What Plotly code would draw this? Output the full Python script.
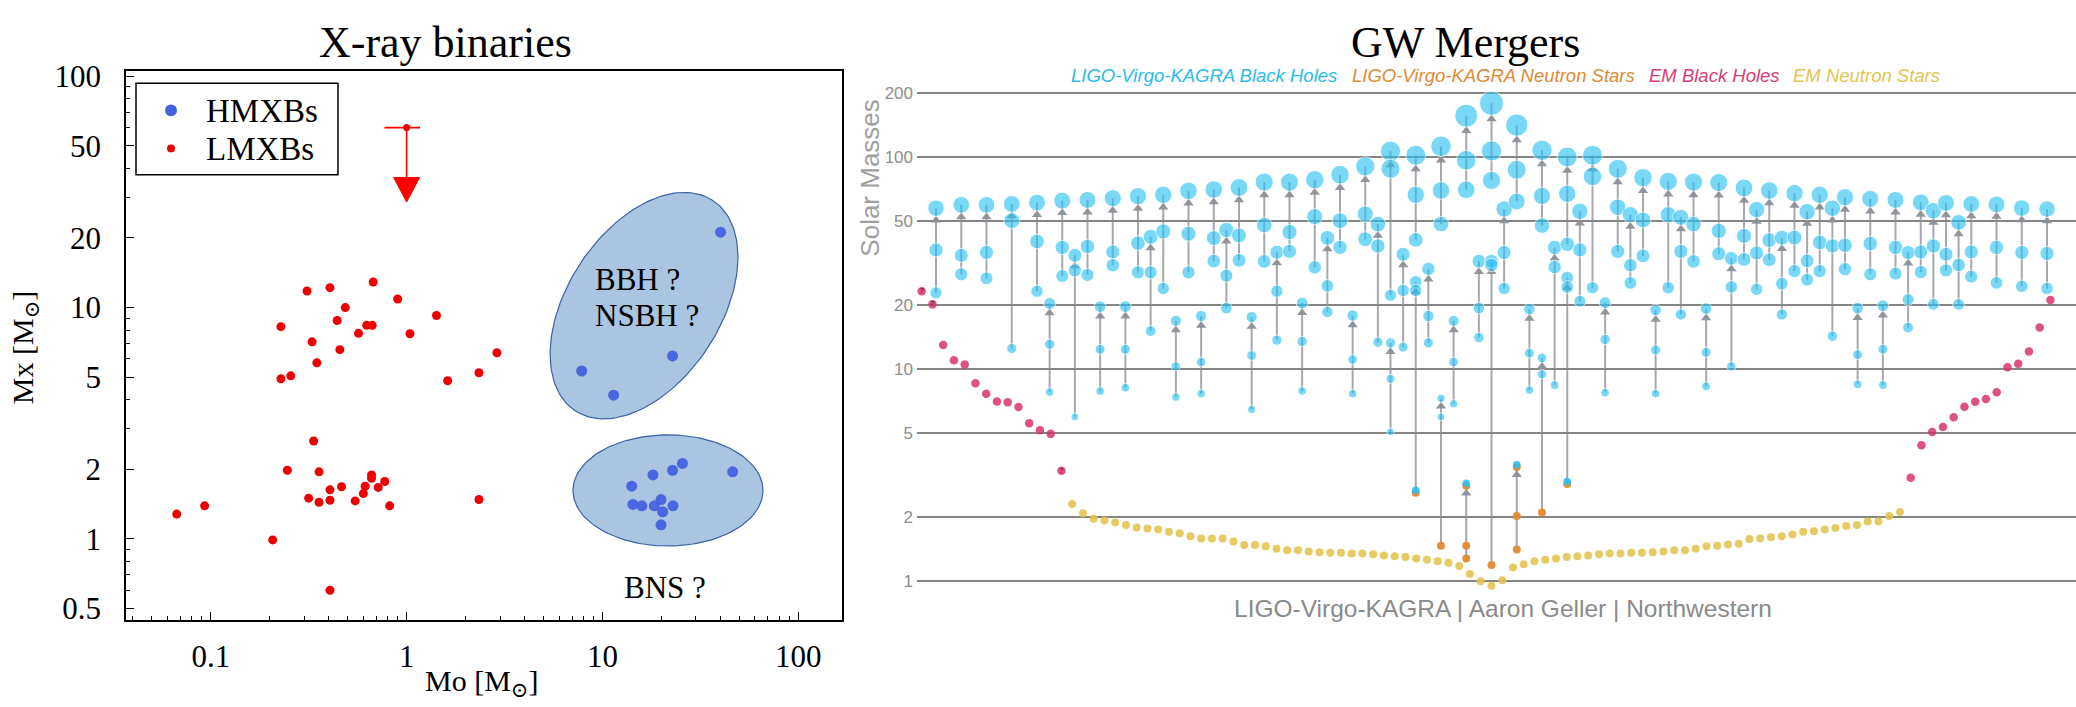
import numpy as np
import plotly.graph_objects as go

W, H = 2076, 707

# ---------------- Left panel: X-ray binaries ----------------
lmxb_mo = [0.31, 0.406, 0.675, 0.486, 0.90, 0.228, 0.442, 0.625, 0.667, 1.42, 0.568, 1.04,
           0.329, 0.456, 0.348, 2.89, 0.228, 0.256, 1.62, 2.34, 0.335, 0.246, 0.357, 0.662,
           0.662, 0.773, 0.465, 0.614, 0.716, 0.406, 0.601, 0.316, 0.406, 0.546, 0.357,
           0.819, 2.34, 0.093, 0.067, 0.207, 0.406]
lmxb_mx = [11.8, 12.2, 12.9, 10.0, 10.9, 8.27, 8.8, 8.38, 8.38, 9.24, 7.74, 7.71,
           7.11, 6.58, 5.77, 6.38, 4.92, 5.07, 4.83, 5.23, 2.65, 1.98, 1.95, 1.89,
           1.83, 1.77, 1.68, 1.69, 1.67, 1.63, 1.57, 1.50, 1.47, 1.46, 1.44,
           1.39, 1.48, 1.39, 1.28, 0.99, 0.60]
hmxb_mo = [40.1, 22.8, 7.83, 11.4, 25.6, 22.8, 46.2, 18.1, 14.1, 14.3, 15.9, 18.4, 19.9, 20.3, 22.9, 19.9]
hmxb_mx = [21.2, 6.18, 5.32, 4.18, 2.12, 1.98, 1.95, 1.89, 1.69, 1.41, 1.39, 1.39, 1.48, 1.31, 1.39, 1.15]

limit_mo, limit_mx = 1.0, 60.0
limit_mo_err_lo, limit_mo_err_hi = 0.23, 0.17
limit_head_top, limit_head_tip = 36.5, 28.6

# ellipses: centre (Mo, Mx), semi-axes in px, tilt in degrees
ell_upper = dict(cx=16.3, cy=10.2, a=128, b=77, ang=58.3)
ell_lower = dict(cx=21.6, cy=1.62, a=95, b=57, ang=0.0)

x_ticks = [0.1, 1, 10, 100]
y_ticks = [0.5, 1, 2, 5, 10, 20, 50, 100]
legend_names = ["HMXBs", "LMXBs"]

# ---------------- Right panel: GW mergers ----------------
# slot, remnant mass, primary, secondary
gw_slot = [0, 2, 4, 6, 8, 9, 10, 11, 12, 13, 14, 15, 16, 17, 18, 19, 20, 21, 22, 23, 24, 25, 26, 27,
           28, 29, 30, 31, 32, 33, 34, 35, 36, 36, 37, 38, 38, 39, 40, 40, 41, 42, 42, 43, 44, 44,
           45, 46, 46, 47, 48, 48, 49, 50, 50, 51, 52, 53, 54, 55, 56, 57, 58, 59, 60, 61, 62, 63,
           64, 65, 66, 67, 68, 69, 70, 71, 72, 73, 74, 75, 76, 77, 78, 79, 80, 81, 82, 84, 86, 88]
gw_final = [57.4, 59.5, 59.5, 60.1, 61.0, 20.4, 62.3, 34.4, 62.8, 19.7, 64.0, 19.7, 65.4, 42.1, 66.4,
            16.9, 69.3, 17.8, 70.3, 45.3, 71.9, 17.6, 76.2, 35.6, 76.2, 20.5, 78.2, 41.6, 82.6, 17.9,
            90.4, 48.3, 106.5, 13.3, 34.8, 102.0, 25.8, 29.7, 112.5, 7.28, 16.9, 156.7, 2.82, 32.3,
            179.4, 32.3, 56.9, 141.5, 3.45, 19.2, 107.7, 11.3, 37.5, 100.1, 27.0, 55.5, 102.0, 20.6,
            88.1, 53.5, 79.9, 19.0, 76.8, 52.0, 76.2, 19.3, 75.9, 33.3, 71.6, 56.5, 69.6, 41.7, 67.6,
            55.3, 66.4, 57.4, 64.7, 19.4, 63.5, 19.9, 62.8, 35.5, 61.2, 55.9, 60.8, 49.2, 60.1, 59.8,
            57.5, 56.9]
gw_m1 = [36.5, 34.4, 35.5, 50.1, 40.0, 13.1, 37.5, 29.2, 37.9, 12.4, 35.7, 12.4, 39.3, 28.6, 44.6,
         10.3, 43.5, 10.8, 41.5, 27.6, 42.7, 11.6, 47.8, 23.3, 44.3, 13.5, 52.4, 24.7, 50.1, 11.1,
         53.9, 38.1, 88.1, 9.0, 23.5, 66.4, 23.5, 17.8, 69.6, 5.95, 10.8, 96.6, 1.47, 19.4,
         106.9, 31.0, 35.5, 87.2, 2.03, 11.9, 65.6, 9.46, 30.3, 67.1, 24.4, 36.5, 81.1, 13.8,
         58.0, 30.9, 50.5, 12.3, 53.5, 35.9, 48.3, 12.0, 44.9, 24.4, 42.5, 35.3, 40.6, 25.3, 41.7,
         32.4, 39.6, 38.1, 38.4, 11.7, 39.1, 12.4, 37.5, 21.3, 35.7, 38.1, 34.8, 31.0, 35.7, 37.5,
         35.5, 35.1]
gw_m2 = [22.9, 28.0, 26.8, 12.5, 23.3, 7.8, 27.5, 5.95, 27.8, 7.88, 30.9, 8.17, 28.6, 15.1, 24.0,
         7.38, 28.6, 7.66, 32.3, 19.4, 32.6, 6.45, 32.2, 13.7, 35.9, 7.88, 30.2, 18.6, 37.5, 7.66,
         41.0, 13.4, 22.3, 5.06, 12.7, 40.7, 2.61, 13.3, 48.3, 1.47, 6.86, 70.1, 1.28, 14.1,
         77.6, 1.19, 24.0, 61.7, 1.41, 7.97, 47.5, 2.11, 8.41, 38.8, 2.87, 20.9, 24.2, 7.74,
         35.9, 25.5, 34.2, 7.66, 24.2, 18.1, 32.2, 8.29, 35.0, 10.3, 32.9, 23.8, 32.8, 18.1, 29.0,
         26.4, 29.0, 14.3, 29.6, 8.48, 28.0, 8.41, 28.2, 15.7, 28.7, 20.2, 29.2, 20.2, 27.3, 25.5,
         24.6, 24.0]

em_bh_left = [23.3, 20.2, 13.0, 11.0, 10.5, 8.57, 7.66, 7.04, 6.97, 6.62, 5.56, 5.15, 4.95, 3.32]
em_bh_left_uncertain = [0, 1, 13]
em_ns = [2.31, 2.09, 1.97, 1.93, 1.89, 1.84, 1.79, 1.77, 1.75, 1.71, 1.68, 1.63, 1.59, 1.59,
         1.59, 1.54, 1.48, 1.48, 1.46, 1.42, 1.40, 1.40, 1.38, 1.37, 1.36, 1.36, 1.35, 1.35,
         1.34, 1.32, 1.31, 1.30, 1.28, 1.26, 1.24, 1.22, 1.18, 1.08, 1.00, 0.95, 1.01, 1.16,
         1.20, 1.24, 1.26, 1.28, 1.30, 1.31, 1.32, 1.34, 1.35, 1.35, 1.36, 1.36, 1.37, 1.38,
         1.40, 1.40, 1.42, 1.46, 1.47, 1.49, 1.50, 1.58, 1.59, 1.61, 1.63, 1.66, 1.71, 1.72,
         1.75, 1.78, 1.82, 1.84, 1.91, 1.91, 2.03, 2.12]
em_bh_right = [3.07, 4.37, 5.05, 5.34, 5.93, 6.64, 7.01, 7.22, 7.77, 10.2, 10.6, 12.1, 15.7, 21.2]

r_ticks = [1, 2, 5, 10, 20, 50, 100, 200]

legend_items = [("LIGO-Virgo-KAGRA Black Holes", "#2bbbef", 1069),
                ("LIGO-Virgo-KAGRA Neutron Stars", "#e08a33", 1350),
                ("EM Black Holes", "#d93d73", 1647),
                ("EM Neutron Stars", "#e2c551", 1791)]

# ---------------- colours ----------------
C_BH = "rgba(40,192,244,0.88)"
C_NS = "rgba(224,138,51,0.95)"
C_EMBH = "rgba(214,52,108,0.85)"
C_EMNS = "rgba(226,196,78,0.88)"
C_ARROW = "rgba(135,140,148,0.75)"
C_HMXB = "#4262df"
C_LMXB = "#ee0000"

# ---------------- layout geometry (px) ----------------
L_LEFT, L_RIGHT, L_TOP, L_BOT = 126, 842, 61, 623.5
LX_RANGE = [-1.433, 2.223]
LY_RANGE = [-0.349, 2.021]
R_LEFT, R_RIGHT, R_TOP, R_BOT = 917, 2076, 75, 600
RY_RANGE = [-0.0735, 2.3396]
LVK_X0, LVK_DX = 936.0, 12.625
EM_X0, EM_DX = 921.7, 10.75

pxx = (L_RIGHT - L_LEFT) / (LX_RANGE[1] - LX_RANGE[0])
pxy = (L_BOT - L_TOP) / (LY_RANGE[1] - LY_RANGE[0])
rpx = (R_BOT - R_TOP) / (RY_RANGE[1] - RY_RANGE[0])

SERIF = "Liberation Serif, Times New Roman, DejaVu Serif, serif"
SANS = "Liberation Sans, Arial, sans-serif"

fig = go.Figure()


def ellipse(e, n=160):
    t = np.linspace(0, 2 * np.pi, n)
    th = np.radians(e["ang"])
    dx = e["a"] * np.cos(t) * np.cos(th) - e["b"] * np.sin(t) * np.sin(th)
    dy = e["a"] * np.cos(t) * np.sin(th) + e["b"] * np.sin(t) * np.cos(th)
    return 10 ** (np.log10(e["cx"]) + dx / pxx), 10 ** (np.log10(e["cy"]) + dy / pxy)


for e in (ell_upper, ell_lower):
    ex, ey = ellipse(e)
    fig.add_trace(go.Scatter(x=ex, y=ey, mode="lines", fill="toself",
                             fillcolor="rgba(170,197,226,1)",
                             line=dict(color="#3a62a6", width=1.2),
                             showlegend=False, hoverinfo="skip", xaxis="x", yaxis="y"))

fig.add_trace(go.Scatter(x=hmxb_mo, y=hmxb_mx, mode="markers", name=legend_names[0],
                         marker=dict(color=C_HMXB, size=11, opacity=0.95), showlegend=False,
                         xaxis="x", yaxis="y"))
fig.add_trace(go.Scatter(x=lmxb_mo, y=lmxb_mx, mode="markers", name=legend_names[1],
                         marker=dict(color=C_LMXB, size=9), showlegend=False,
                         xaxis="x", yaxis="y"))
# upper limit: point with horizontal bar, line and arrow head
fig.add_trace(go.Scatter(x=[limit_mo, limit_mo], y=[limit_mx, limit_head_top], mode="lines",
                         line=dict(color="#ff0000", width=1.6), showlegend=False,
                         hoverinfo="skip", xaxis="x", yaxis="y"))
fig.add_trace(go.Scatter(x=[limit_mo], y=[limit_mx], mode="markers",
                         marker=dict(color=C_LMXB, size=7),
                         error_x=dict(type="data", symmetric=False, array=[limit_mo_err_hi],
                                      arrayminus=[limit_mo_err_lo], color="#ff0000",
                                      thickness=1.6, width=0),
                         showlegend=False, xaxis="x", yaxis="y"))
hw = 10 ** (13.0 / pxx)
fig.add_trace(go.Scatter(x=[limit_mo / hw, limit_mo * hw, limit_mo, limit_mo / hw],
                         y=[limit_head_top, limit_head_top, limit_head_tip, limit_head_top],
                         mode="lines", fill="toself", fillcolor="#ff0000",
                         line=dict(color="#ff0000", width=1), showlegend=False,
                         hoverinfo="skip", xaxis="x", yaxis="y"))

# ---------------- right panel traces ----------------
gx = [LVK_X0 + s * LVK_DX for s in gw_slot]


def bh_size(m):
    return max(7.5, 4.35 * m ** 0.33)


lx, ly = [], []
for x, f, a, b in zip(gx, gw_final, gw_m1, gw_m2):
    lx += [x, x, None]
    ly += [min(a, b), f, None]
fig.add_trace(go.Scatter(x=lx, y=ly, mode="lines", line=dict(color=C_ARROW, width=2),
                         showlegend=False, hoverinfo="skip", xaxis="x2", yaxis="y2"))
ahx, ahy = [], []
for x, f in zip(gx, gw_final):
    ahx.append(x)
    ahy.append(f / 10 ** ((bh_size(f) / 2 + 4.0) / rpx))
fig.add_trace(go.Scatter(x=ahx, y=ahy, mode="markers",
                         marker=dict(symbol="triangle-up", size=9, color="rgba(140,145,152,0.95)"),
                         showlegend=False, hoverinfo="skip", xaxis="x2", yaxis="y2"))

# EM objects
em_all = em_bh_left + em_ns + em_bh_right
em_x = [EM_X0 + i * EM_DX for i in range(len(em_all))]
nl, nn = len(em_bh_left), len(em_ns)
fig.add_trace(go.Scatter(x=em_x[:nl], y=em_bh_left, mode="markers",
                         marker=dict(color=C_EMBH, size=8.5), showlegend=False,
                         xaxis="x2", yaxis="y2"))
fig.add_trace(go.Scatter(x=[em_x[i] for i in em_bh_left_uncertain],
                         y=[em_bh_left[i] for i in em_bh_left_uncertain], mode="text",
                         text=["?"] * len(em_bh_left_uncertain), textposition="middle center",
                         textfont=dict(size=8, color="#222"), showlegend=False,
                         hoverinfo="skip", xaxis="x2", yaxis="y2"))
fig.add_trace(go.Scatter(x=em_x[nl:nl + nn], y=em_ns, mode="markers",
                         marker=dict(color=C_EMNS, size=8), showlegend=False,
                         xaxis="x2", yaxis="y2"))
fig.add_trace(go.Scatter(x=em_x[nl + nn:], y=em_bh_right, mode="markers",
                         marker=dict(color=C_EMBH, size=8.5), showlegend=False,
                         xaxis="x2", yaxis="y2"))

# LVK compact objects
bx, by, bs, nx, ny, hx, hy = [], [], [], [], [], [], []
for x, f, a, b in zip(gx, gw_final, gw_m1, gw_m2):
    for m in (f, a, b):
        if m < 2.5:
            nx.append(x); ny.append(m)
        elif m < 3.6:
            hx.append(x); hy.append(m)
        else:
            bx.append(x); by.append(m); bs.append(bh_size(m))
fig.add_trace(go.Scatter(x=bx, y=by, mode="markers", marker=dict(color=C_BH, size=bs),
                         showlegend=False, xaxis="x2", yaxis="y2"))
fig.add_trace(go.Scatter(x=nx + hx, y=ny + hy, mode="markers", marker=dict(color=C_NS, size=8),
                         showlegend=False, xaxis="x2", yaxis="y2"))
fig.add_trace(go.Scatter(x=hx, y=[m * 10 ** (2.5 / rpx) for m in hy], mode="markers",
                         marker=dict(color=C_BH, size=7.5), showlegend=False,
                         xaxis="x2", yaxis="y2"))


# ---------------- layout ----------------
def minor_vals(lo, hi, major):
    v = []
    for e in range(lo, hi + 1):
        for d in range(1, 10):
            val = d * 10.0 ** e
            if all(abs(val - m) > 1e-9 * max(1, m) for m in major):
                v.append(val)
    return v


axis_font = dict(family=SERIF, size=31, color="black")
fig.update_layout(
    width=W, height=H, margin=dict(l=0, r=0, t=0, b=0),
    paper_bgcolor="white", plot_bgcolor="white", showlegend=False,
    xaxis=dict(domain=[L_LEFT / W, L_RIGHT / W], type="log", range=LX_RANGE,
               tickvals=x_ticks, ticktext=[str(v) for v in x_ticks],
               ticks="inside", ticklen=8, tickwidth=1.3, tickcolor="black",
               minor=dict(tickmode="array", tickvals=minor_vals(-2, 2, x_ticks),
                          ticks="inside", ticklen=4, tickwidth=1, tickcolor="black"),
               showline=True, linecolor="black", linewidth=1.5, mirror=True,
               showgrid=False, zeroline=False, tickfont=axis_font, ticklabelstandoff=8,
               anchor="y"),
    yaxis=dict(domain=[1 - L_BOT / H, 1 - L_TOP / H], type="log", range=LY_RANGE,
               tickvals=y_ticks, ticktext=[("%g" % v) for v in y_ticks],
               ticks="inside", ticklen=8, tickwidth=1.3, tickcolor="black",
               minor=dict(tickmode="array", tickvals=minor_vals(-1, 2, y_ticks),
                          ticks="inside", ticklen=4, tickwidth=1, tickcolor="black"),
               showline=True, linecolor="black", linewidth=1.5, mirror=True,
               showgrid=False, zeroline=False, tickfont=axis_font, ticklabelstandoff=17,
               anchor="x"),
    xaxis2=dict(domain=[R_LEFT / W, R_RIGHT / W], range=[R_LEFT, R_RIGHT], visible=False,
                anchor="y2"),
    yaxis2=dict(domain=[1 - R_BOT / H, 1 - R_TOP / H], type="log", range=RY_RANGE,
                tickvals=r_ticks, ticktext=[str(v) for v in r_ticks],
                showgrid=True, gridcolor="#858585", gridwidth=2.4, zeroline=False,
                showline=False, ticks="", tickfont=dict(family=SANS, size=17, color="#8e8e8e"),
                ticklabelstandoff=3, anchor="x2"),
)

ann, shp = [], []


def A(text, x, y, **kw):
    d = dict(text=text, x=x / W, y=1 - y / H, xref="paper", yref="paper", showarrow=False,
             xanchor="center", yanchor="middle")
    d.update(kw)
    ann.append(d)


def px_circle(cx, cy, d, color):
    shp.append(dict(type="circle", xref="paper", yref="paper",
                    x0=(cx - d / 2) / W, x1=(cx + d / 2) / W,
                    y0=1 - (cy + d / 2) / H, y1=1 - (cy - d / 2) / H,
                    fillcolor=color, line=dict(width=0)))


# left legend box
shp.append(dict(type="rect", xref="paper", yref="paper", x0=136 / W, x1=338 / W,
                y0=1 - 167 / H, y1=1 - 73 / H, line=dict(color="black", width=1.5),
                fillcolor="white"))
px_circle(171, 101, 12, C_HMXB)
px_circle(171, 140, 8, C_LMXB)
A(legend_names[0], 204, 102, xanchor="left", font=dict(family=SERIF, size=33, color="black"))
A(legend_names[1], 204, 141, xanchor="left", font=dict(family=SERIF, size=33, color="black"))

A("X-ray binaries", 445, 31, font=dict(family=SERIF, size=44, color="black"))
A("GW Mergers", 1465, 31, font=dict(family=SERIF, size=44, color="black"))
A("Mx [M<sub>⊙</sub>]", 25, 345, textangle=-90, font=dict(family=SERIF, size=30, color="black"))
A("Mo [M<sub>⊙</sub>]", 481, 689, font=dict(family=SERIF, size=30, color="black"))
A("BBH ?", 593, 275, xanchor="left", font=dict(family=SERIF, size=31, color="black"))
A("NSBH ?", 593, 311, xanchor="left", font=dict(family=SERIF, size=31, color="black"))
A("BNS ?", 622, 591, xanchor="left", font=dict(family=SERIF, size=31, color="black"))
for txt, col, x0 in legend_items:
    A("<i>" + txt + "</i>", x0, 65, xanchor="left", font=dict(family=SANS, size=18.5, color=col))
A("Solar Masses", 870, 170, textangle=-90, font=dict(family=SANS, size=26, color="#a0a0a0"))
A("LIGO-Virgo-KAGRA | Aaron Geller | Northwestern", 1503, 612,
  font=dict(family=SANS, size=24.5, color="#8a8a8a"))
fig.update_layout(annotations=ann, shapes=shp)

fig.write_html("out.html", config={"displayModeBar": False},
               post_script="document.body.style.margin='0px';")
